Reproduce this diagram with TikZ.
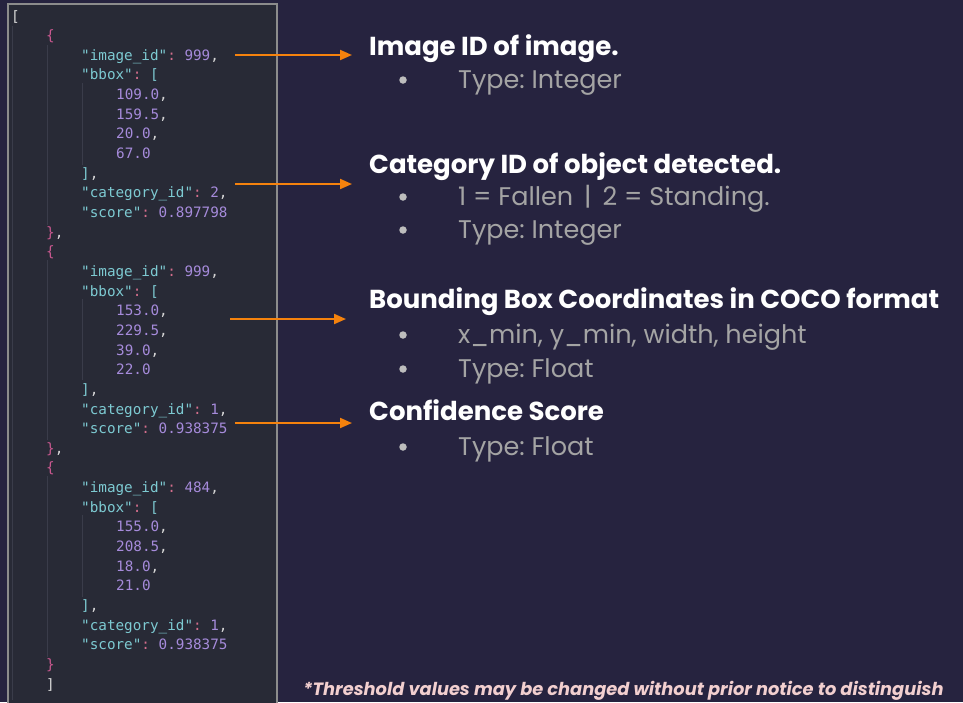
\documentclass[tikz,border=0pt]{standalone}
\usepackage{fontspec}
\usetikzlibrary{arrows.meta}
\newfontfamily\codefont{DejaVu Sans Mono}
\newfontfamily\gfont{Poppins}
\definecolor{bgc}{HTML}{26233F}
\definecolor{panelc}{HTML}{282A36}
\definecolor{framec}{HTML}{8C8C8C}
\definecolor{guidec}{HTML}{3A3C4A}
\definecolor{keyc}{HTML}{7DCAD2}
\definecolor{numc}{HTML}{A68BDB}
\definecolor{pinkc}{HTML}{C8588F}
\definecolor{colc}{HTML}{D46E8C}
\definecolor{plainc}{HTML}{D6D6D6}
\definecolor{arrc}{HTML}{F5820D}
\definecolor{headc}{HTML}{FFFFFF}
\definecolor{bulc}{HTML}{A4A4A4}
\definecolor{dotc}{HTML}{BDBDBD}
\definecolor{notec}{HTML}{F2CFCF}
\newcommand{\Kx}[1]{\textcolor{keyc}{#1}}
\newcommand{\Nx}[1]{\textcolor{numc}{#1}}
\newcommand{\Px}[1]{\textcolor{pinkc}{#1}}
\newcommand{\Cx}{\textcolor{colc}{:}}
\frenchspacing
\begin{document}
\begin{tikzpicture}[x=1pt,y=-1pt,
  code/.style={anchor=base west,inner sep=0pt,font=\codefont\frenchspacing\fontsize{14.3}{16}\selectfont,text=plainc},
  head/.style={anchor=base west,inner sep=0pt,font=\gfont\bfseries\fontsize{26}{30}\selectfont,text=headc},
  bul/.style={anchor=base west,inner sep=0pt,font=\gfont\fontsize{25.5}{30}\selectfont,text=bulc},
  dot/.style={circle,fill=dotc,inner sep=0pt,minimum size=7.5pt},
  arr/.style={draw=arrc,line width=2pt,-{Triangle[length=12pt,width=10pt]}},
  guide/.style={draw=guidec,line width=0.8pt}]
\useasboundingbox (0,0) rectangle (963,702);
\fill[bgc] (0,0) rectangle (963,702);
\fill[panelc] (8,4) rectangle (277,712);
\draw[framec,line width=1.6pt] (8,712) -- (8,4) -- (277,4) -- (277,712);
% guides
\draw[guide] (12,26) -- (12,700);
\draw[guide] (47,45) -- (47,225) (47,260) -- (47,440) (47,476) -- (47,657);
\draw[guide] (82,83) -- (82,165) (82,299) -- (82,380) (82,515) -- (82,597);
% code lines
\def\lh{19.65}
\node[code] (c0) at (11,21) {[};
\node[code] (c1) at (46,{21+1*\lh}) {\Px{\{}};
\node[code] (c2) at (81,{21+2*\lh}) {\Kx{"image\_id"}\Cx{} \Nx{999},};
\node[code] (c3) at (81,{21+3*\lh}) {\Kx{"bbox"}\Cx{} \Kx{[}};
\node[code] (c4) at (116,{21+4*\lh}) {\Nx{109.0},};
\node[code] (c5) at (116,{21+5*\lh}) {\Nx{159.5},};
\node[code] (c6) at (116,{21+6*\lh}) {\Nx{20.0},};
\node[code] (c7) at (116,{21+7*\lh}) {\Nx{67.0}};
\node[code] (c8) at (81,{21+8*\lh}) {\Kx{]},};
\node[code] (c9) at (81,{21+9*\lh}) {\Kx{"category\_id"}\Cx{} \Nx{2},};
\node[code] (c10) at (81,{21+10*\lh}) {\Kx{"score"}\Cx{} \Nx{0.897798}};
\node[code] (c11) at (46,{21+11*\lh}) {\Px{\}},};
\node[code] (c12) at (46,{21+12*\lh}) {\Px{\{}};
\node[code] (c13) at (81,{21+13*\lh}) {\Kx{"image\_id"}\Cx{} \Nx{999},};
\node[code] (c14) at (81,{21+14*\lh}) {\Kx{"bbox"}\Cx{} \Kx{[}};
\node[code] (c15) at (116,{21+15*\lh}) {\Nx{153.0},};
\node[code] (c16) at (116,{21+16*\lh}) {\Nx{229.5},};
\node[code] (c17) at (116,{21+17*\lh}) {\Nx{39.0},};
\node[code] (c18) at (116,{21+18*\lh}) {\Nx{22.0}};
\node[code] (c19) at (81,{21+19*\lh}) {\Kx{]},};
\node[code] (c20) at (81,{21+20*\lh}) {\Kx{"category\_id"}\Cx{} \Nx{1},};
\node[code] (c21) at (81,{21+21*\lh}) {\Kx{"score"}\Cx{} \Nx{0.938375}};
\node[code] (c22) at (46,{21+22*\lh}) {\Px{\}},};
\node[code] (c23) at (46,{21+23*\lh}) {\Px{\{}};
\node[code] (c24) at (81,{21+24*\lh}) {\Kx{"image\_id"}\Cx{} \Nx{484},};
\node[code] (c25) at (81,{21+25*\lh}) {\Kx{"bbox"}\Cx{} \Kx{[}};
\node[code] (c26) at (116,{21+26*\lh}) {\Nx{155.0},};
\node[code] (c27) at (116,{21+27*\lh}) {\Nx{208.5},};
\node[code] (c28) at (116,{21+28*\lh}) {\Nx{18.0},};
\node[code] (c29) at (116,{21+29*\lh}) {\Nx{21.0}};
\node[code] (c30) at (81,{21+30*\lh}) {\Kx{]},};
\node[code] (c31) at (81,{21+31*\lh}) {\Kx{"category\_id"}\Cx{} \Nx{1},};
\node[code] (c32) at (81,{21+32*\lh}) {\Kx{"score"}\Cx{} \Nx{0.938375}};
\node[code] (c33) at (46,{21+33*\lh}) {\Px{\}}};
\node[code] (c34) at (46,{21+34*\lh}) {]};
% right side text
\node[head] (h1) at (369,55) {Image ID of image.};
\node[dot] (d1) at (403,80) {};
\node[bul] (b1) at (458,88) {Type: Integer};
\node[head] (h2) at (369,173) {Category ID of object detected.};
\node[dot] (d2) at (403,197) {};
\node[bul] (b2) at (458,205) {1 = Fallen \,|\, 2 = Standing.};
\node[dot] (d3) at (403,230) {};
\node[bul] (b3) at (458,238) {Type: Integer};
\node[head] (h3) at (369,308) {Bounding Box Coordinates in COCO format};
\node[dot] (d4) at (403,335) {};
\node[bul] (b4) at (458,343) {x\_min, y\_min, width, height};
\node[dot] (d5) at (403,369) {};
\node[bul] (b5) at (458,377) {Type: Float};
\node[head] (h4) at (369,420) {Confidence Score};
\node[dot] (d6) at (403,447) {};
\node[bul] (b6) at (458,455) {Type: Float};
% arrows
\coordinate (s1) at (235,55);  \coordinate (e1) at (352,55);
\coordinate (s2) at (235,184); \coordinate (e2) at (352,184);
\coordinate (s3) at (230,319); \coordinate (e3) at (346,319);
\coordinate (s4) at (235,423); \coordinate (e4) at (352,423);
\draw[arr] (s1) -- (e1);
\draw[arr] (s2) -- (e2);
\draw[arr] (s3) -- (e3);
\draw[arr] (s4) -- (e4);
% footnote
\node[anchor=base west,inner sep=0pt,text=notec,font=\gfont\bfseries\itshape\fontsize{17.8}{22}\selectfont] (fn) at (303,695) {*Threshold values may be changed without prior notice to distinguish};
\end{tikzpicture}
\end{document}
